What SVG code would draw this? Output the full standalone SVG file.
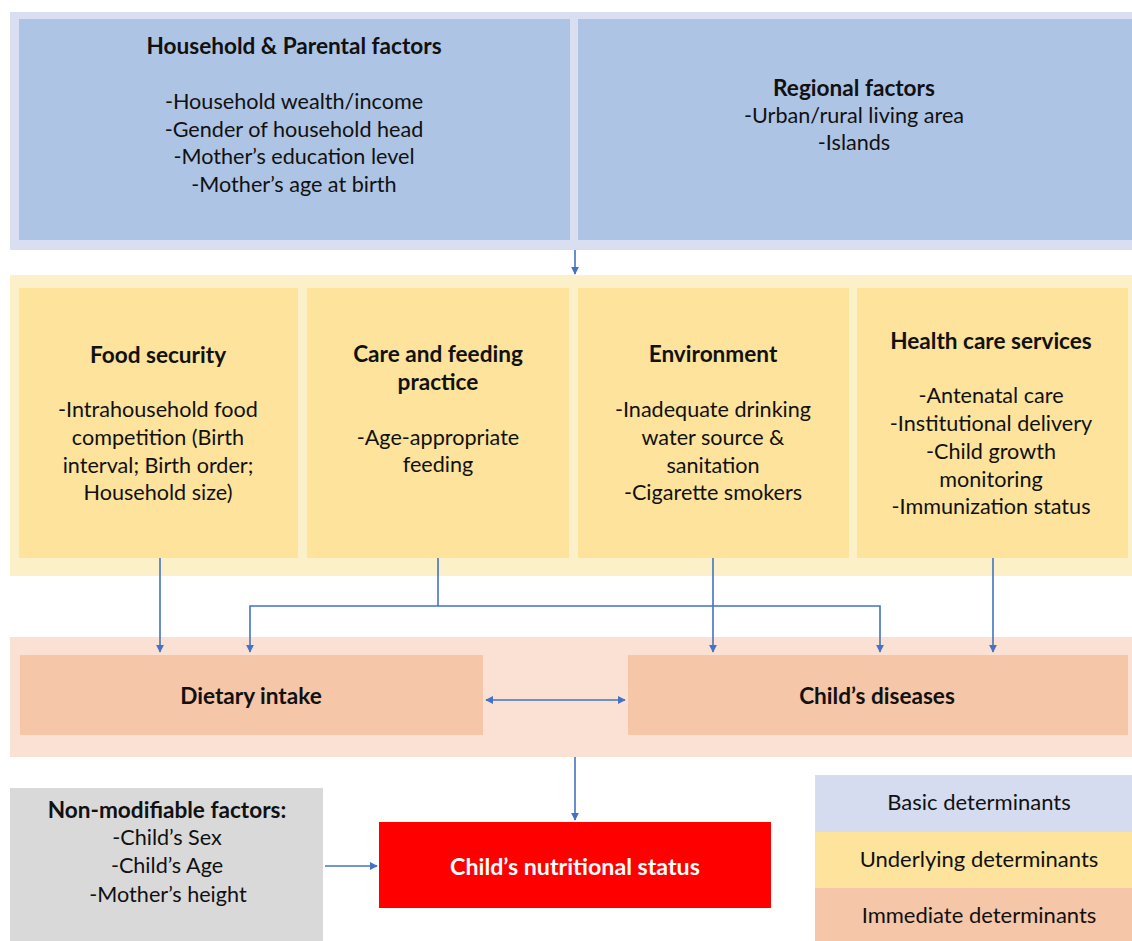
<svg xmlns="http://www.w3.org/2000/svg" width="1132" height="941" viewBox="0 0 1132 941">
<defs>
<style>
text{font-family:"Lato","Open Sans","Liberation Sans",sans-serif;font-size:21.6px;fill:#111;text-anchor:middle}
.b{font-weight:bold;font-size:22.6px}
.w{fill:#fff}
.lg{font-size:22px}
.con{stroke:#4472c4;stroke-width:1.6;fill:none}
</style>
<marker id="ah" viewBox="0 0 10 10" refX="9" refY="5" markerWidth="8" markerHeight="8" markerUnits="userSpaceOnUse" orient="auto-start-reverse">
<path d="M0,0 L10,5 L0,10 z" fill="#4472c4"/>
</marker>
</defs>
<rect width="1132" height="941" fill="#fff"/>
<g id="bands">
<rect x="10" y="12" width="1122" height="238" fill="#d9dff0"/>
<rect x="10" y="275" width="1122" height="301" fill="#fcf0c8"/>
<rect x="10" y="637" width="1122" height="120" fill="#fae1d3"/>
</g>
<g id="household">
<rect x="19" y="19" width="551" height="221" fill="#aec4e4"/>
<text class="b" x="294" y="54">Household &amp; Parental factors</text>
<text x="294" y="109">-Household wealth/income</text>
<text x="294" y="137">-Gender of household head</text>
<text x="294" y="164">-Mother’s education level</text>
<text x="294" y="192">-Mother’s age at birth</text>
</g>
<g id="regional">
<rect x="578" y="19" width="554" height="221" fill="#aec4e4"/>
<text class="b" x="854" y="96">Regional factors</text>
<text x="854" y="123">-Urban/rural living area</text>
<text x="854" y="150">-Islands</text>
</g>
<g id="food">
<rect x="19" y="288" width="279" height="270" fill="#fde39b"/>
<text class="b" x="158" y="363">Food security</text>
<text x="158" y="417">-Intrahousehold food</text>
<text x="158" y="445">competition (Birth</text>
<text x="158" y="473">interval; Birth order;</text>
<text x="158" y="500">Household size)</text>
</g>
<g id="care">
<rect x="307" y="288" width="262" height="270" fill="#fde39b"/>
<text class="b" x="438" y="362">Care and feeding</text>
<text class="b" x="438" y="390">practice</text>
<text x="438" y="445">-Age-appropriate</text>
<text x="438" y="472">feeding</text>
</g>
<g id="environment">
<rect x="578" y="288" width="271" height="270" fill="#fde39b"/>
<text class="b" x="713" y="362">Environment</text>
<text x="713" y="417">-Inadequate drinking</text>
<text x="713" y="445">water source &amp;</text>
<text x="713" y="473">sanitation</text>
<text x="713" y="500">-Cigarette smokers</text>
</g>
<g id="health">
<rect x="857" y="288" width="271" height="270" fill="#fde39b"/>
<text class="b" x="991" y="349">Health care services</text>
<text x="991" y="403">-Antenatal care</text>
<text x="991" y="431">-Institutional delivery</text>
<text x="991" y="459">-Child growth</text>
<text x="991" y="487">monitoring</text>
<text x="991" y="514">-Immunization status</text>
</g>
<g id="dietary">
<rect x="20" y="655" width="463" height="80" fill="#f5c6a7"/>
<text class="b" x="251" y="704">Dietary intake</text>
</g>
<g id="diseases">
<rect x="628" y="655" width="500" height="80" fill="#f5c6a7"/>
<text class="b" x="877" y="704">Child’s diseases</text>
</g>
<g id="nonmod">
<rect x="10" y="788" width="313" height="153" fill="#d9d9d9"/>
<text class="b" x="167" y="818">Non-modifiable factors:</text>
<text x="167" y="845">-Child’s Sex</text>
<text x="167" y="873">-Child’s Age</text>
<text x="168" y="902">-Mother’s height</text>
</g>
<g id="status">
<rect x="379" y="822" width="392" height="86" fill="#ff0000"/>
<text class="b w" x="575" y="875" style="font-size:23.2px">Child’s nutritional status</text>
</g>
<g id="legend">
<rect x="815" y="775" width="317" height="57" fill="#d6dcef"/>
<rect x="815" y="832" width="317" height="56" fill="#fde39b"/>
<rect x="815" y="888" width="317" height="53" fill="#f5c6a7"/>
<text class="lg" x="979" y="810">Basic determinants</text>
<text class="lg" x="979" y="867">Underlying determinants</text>
<text class="lg" x="979" y="923">Immediate determinants</text>
</g>
<g id="connectors">
<path class="con" d="M575,250 V274" marker-end="url(#ah)"/>
<path class="con" d="M160,558 V652" marker-end="url(#ah)"/>
<path class="con" d="M438,558 V606"/>
<path class="con" d="M250,652 V606 H880 V652" marker-start="url(#ah)" marker-end="url(#ah)"/>
<path class="con" d="M713,558 V652" marker-end="url(#ah)"/>
<path class="con" d="M993,558 V652" marker-end="url(#ah)"/>
<path class="con" d="M486,700 H625" marker-start="url(#ah)" marker-end="url(#ah)"/>
<path class="con" d="M575,757 V820" marker-end="url(#ah)"/>
<path class="con" d="M325,866 H377" marker-end="url(#ah)"/>
</g>
</svg>
